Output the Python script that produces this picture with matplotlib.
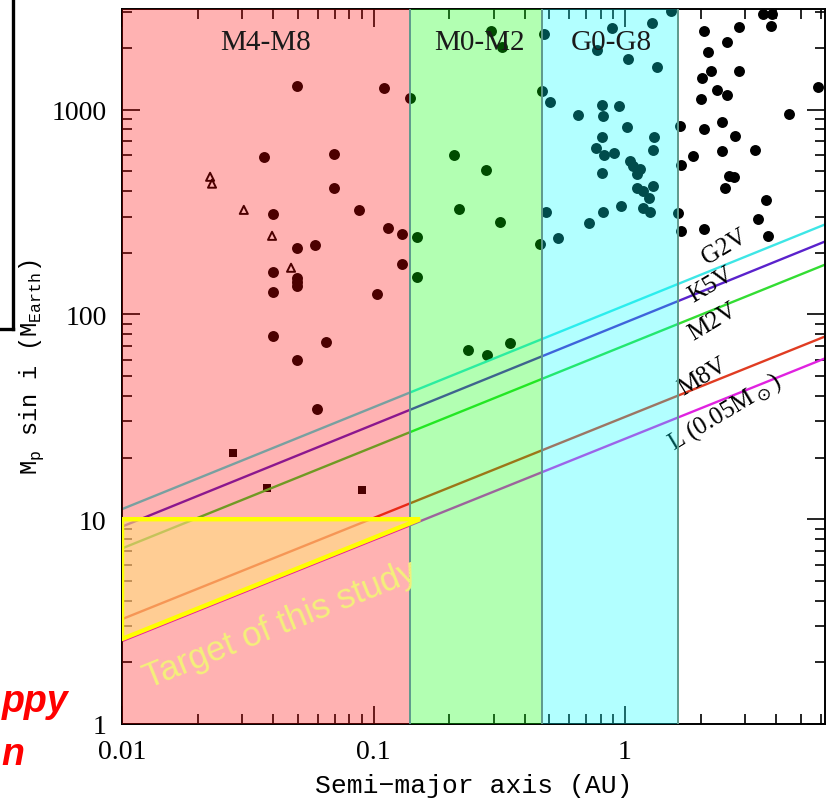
import numpy as np
import matplotlib
matplotlib.use("Agg")
import matplotlib.pyplot as plt
from matplotlib.lines import Line2D
from matplotlib.patches import Polygon
from matplotlib.ticker import FixedLocator, LogLocator, NullFormatter

# filled circles: semi-major axis (AU), Mp sin i (M_Earth)
circ_a = [0.0497, 0.110, 0.140, 0.0367, 0.0697, 0.0697, 0.0876, 0.0398, 0.114, 0.130,
          0.0497, 0.0585, 0.0398, 0.0497, 0.0497, 0.0497, 0.0398, 0.130, 0.103, 0.0398,
          0.0648, 0.0497, 0.0596,
          0.293, 0.324, 0.209, 0.280, 0.219, 0.318, 0.149, 0.149, 0.238, 0.283,
          0.349, 0.459, 0.468, 0.476,
          0.504, 0.650, 0.811, 0.946, 0.818, 1.019, 0.811, 1.303, 0.767, 0.826,
          0.904, 1.291, 1.047, 1.076, 1.148, 0.811, 1.116, 1.116, 1.291, 1.180,
          0.888, 1.280, 0.774, 1.028, 1.340, 1.523, 0.485, 0.542, 0.719, 0.818,
          0.964, 1.245, 1.180, 1.257,
          2.061, 2.838, 3.538, 3.84, 3.81, 2.546, 2.137, 2.024, 2.197, 2.838,
          2.322, 2.546, 2.006, 5.85, 4.49, 1.655, 2.061, 2.432, 2.737, 1.864,
          2.432, 3.285, 1.671, 2.594, 2.713, 2.500, 3.637, 1.625, 3.378, 1.671,
          2.061, 3.705]
circ_m = [1309, 1280, 1142, 589, 609, 415, 324, 310, 265, 248,
          211, 219, 161, 151, 144, 138, 129, 177, 126, 78.5,
          73.4, 60.0, 34.6,
          2428, 2028, 602, 509, 328, 283, 239, 153, 66.8, 63.5,
          72.7, 221, 1237, 2349,
          1093, 944, 1056, 1045, 934, 825, 737, 737, 652, 602,
          616, 637, 563, 532, 514, 492, 486, 415, 425, 402,
          2512, 2661, 1963, 1774, 1622, 3041, 317, 237, 280, 317,
          339, 371, 332, 317,
          2428, 2541, 2942, 2942, 2571, 2148, 1919, 1432, 1549, 1549,
          1251, 1182, 1130, 1294, 955, 834, 806, 873, 745, 596,
          630, 637, 538, 475, 470, 415, 363, 313, 293, 256,
          262, 242]

# open triangles and squares
tri_a = [0.0224, 0.0228, 0.0305, 0.0395, 0.0470]
tri_m = [470, 435, 324, 242, 169]
sq_a = [0.0276, 0.0377, 0.090]
sq_m = [21.1, 14.2, 13.9]

# detection limit lines (end points at a = 0.01 and 6.24 AU)
line_names = ["G2V", "K5V", "M2V", "M8V", r"L (0.05M$_\odot$)"]
line_a = [0.01, 6.24]
line_m = [[11.2, 275], [9.2, 227], [7.2, 175], [3.25, 78], [2.54, 61]]
line_colors = ["#3ee6e6", "#5a22cc", "#33dd33", "#e03c22", "#e022e0"]
label_a = [2.48, 2.20, 2.24, 2.04, 2.50]
label_m = [216, 141, 93, 50, 33.4]

# spectral type bands
band_edges = [0.01, 0.14, 0.466, 1.63]
band_names = ["M4-M8", "M0-M2", "G0-G8"]
band_colors = ["#ff0000", "#00ff00", "#00ffff"]
band_label_a = [0.0371, 0.263, 0.88]

# target region
target_a = [0.01, 0.153, 0.01]
target_m = [10, 10, 2.6]

serif = "Liberation Serif"
mono = "Liberation Mono"

fig = plt.figure(figsize=(8.31, 8.03), dpi=100)
ax = fig.add_axes([122 / 831, 1 - 725 / 803, 703 / 831, 715 / 803])
ax.set_xscale("log")
ax.set_yscale("log")
ax.set_xlim(0.01, 6.24)
ax.set_ylim(1, 3100)

ax.scatter(circ_a, circ_m, s=62, c="black", linewidths=0, zorder=2)
ax.scatter(tri_a, tri_m, s=34, marker="^", facecolors="none", edgecolors="black",
           linewidths=1.4, zorder=2)
ax.scatter(sq_a, sq_m, s=32, marker="s", c="black", linewidths=0, zorder=2)

for name, m, col, la, lm in zip(line_names, line_m, line_colors, label_a, label_m):
    ax.plot(line_a, m, color=col, lw=1.7, zorder=2)
    ax.text(la, lm, name, rotation=31, ha="center", va="center", fontsize=18,
            family=serif, color="black", zorder=2, rotation_mode="anchor")

for i, name in enumerate(band_names):
    ax.axvspan(band_edges[i], band_edges[i + 1], color=band_colors[i], alpha=0.3,
               lw=0, zorder=3)
    ax.text(band_label_a[i], 0.954, name, transform=ax.get_xaxis_transform(),
            ha="center", va="center", fontsize=21, family=serif, color="#1a1a1a",
            zorder=3.5)
for e in band_edges[1:]:
    ax.axvline(e, color="#5e9a8c", lw=1.4, zorder=3.2)

tri = Polygon(list(zip(target_a, target_m)), closed=True, facecolor="#ffe080",
              alpha=0.6, edgecolor="none", zorder=4)
ax.add_patch(tri)
tri_edge = Polygon(list(zip(target_a, target_m)), closed=True, fill=False,
                   edgecolor="#ffff00", lw=3.2, zorder=4.1)
ax.add_patch(tri_edge)
ax.text(0.0425, 3.08, "Target of this study", rotation=22, ha="center", va="center",
        fontsize=25, family="Liberation Sans", color="#f4f07a", zorder=5,
        rotation_mode="anchor")

ax.xaxis.set_major_locator(FixedLocator([0.01, 0.1, 1]))
ax.set_xticklabels(["0.01", "0.1", "1"])
ax.yaxis.set_major_locator(FixedLocator([1, 10, 100, 1000]))
ax.set_yticklabels(["1", "10", "100", "1000"])
ax.xaxis.set_minor_locator(LogLocator(base=10, subs=np.arange(2, 10), numticks=20))
ax.yaxis.set_minor_locator(LogLocator(base=10, subs=np.arange(2, 10), numticks=20))
ax.xaxis.set_minor_formatter(NullFormatter())
ax.yaxis.set_minor_formatter(NullFormatter())
ax.tick_params(which="both", direction="in", top=True, right=True, width=1.2)
ax.tick_params(which="major", length=13)
ax.tick_params(which="minor", length=7)
ax.tick_params(axis="x", which="major", pad=11)
ax.tick_params(axis="y", which="major", pad=11)
for lab in ax.get_xticklabels() + ax.get_yticklabels():
    lab.set_family(serif)
    lab.set_fontsize(20)
for s in ax.spines.values():
    s.set_linewidth(1.4)

ax.set_xlabel("Semi\u2212major axis (AU)", family=mono, fontsize=19, labelpad=6)
ax.set_ylabel(r"M$_\mathregular{p}$ sin i (M$_\mathregular{Earth}$)", family=mono,
              fontsize=17, labelpad=4)

# slide remnants around the chart
fig.add_artist(Line2D([13 / 831, 13 / 831], [1, 1 - 330 / 803], color="black", lw=2.4))
fig.add_artist(Line2D([0, 13 / 831], [1 - 330 / 803, 1 - 330 / 803], color="black", lw=2.4))
fig.text(0.002, 1 - 712 / 803, "ppy", color="red", fontsize=27, fontweight="bold",
         style="italic", family="Liberation Sans")
fig.text(0.002, 1 - 765 / 803, "n", color="red", fontsize=27, fontweight="bold",
         style="italic", family="Liberation Sans")

fig.savefig("out.png", dpi=100)
